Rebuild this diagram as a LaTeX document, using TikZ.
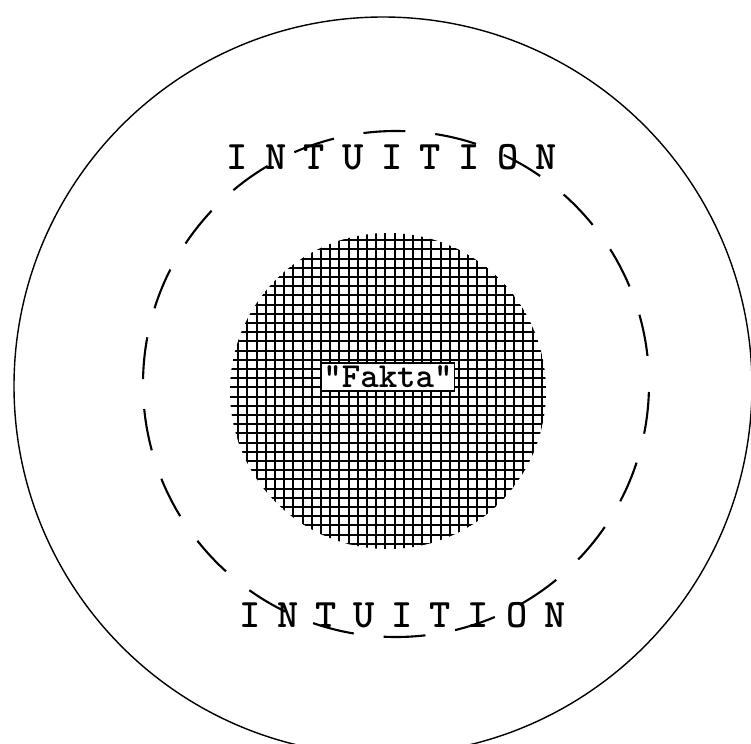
\documentclass[tikz,border=0pt]{standalone}
\usetikzlibrary{positioning}

\begin{document}
\begin{tikzpicture}[
  x=0.02cm, y=-0.02cm,
  outer/.style={line width=0.8pt},
  dashring/.style={line width=1.2pt, dash pattern=on 0.84cm off 0.6cm, dash phase=1.28cm},
  hatch/.style={line width=1.1pt},
  letter/.style={inner sep=0pt, font=\fontsize{23}{23}\selectfont\ttfamily\bfseries},
  labelbox/.style={rectangle, fill=white, draw=black, line width=0.6pt, minimum width=2.66cm, minimum height=0.56cm, inner sep=0pt, font=\fontsize{20}{20}\selectfont\ttfamily\bfseries}
]
\clip (0,0) rectangle (751,744);
\fill[white] (0,0) rectangle (751,744);

% Outer circle
\draw[outer] (383,386) circle [radius=369];

% Dashed ring
\draw[dashring] (396,384) circle [radius=253];

% Hatched core
\begin{scope}
  \clip (388,391) circle [radius=158];
  \foreach \k in {0,...,35} {
    \draw[hatch] ({229+9.2*\k},228) -- ++(0,330);
    \draw[hatch] (226,{231+9.2*\k}) -- ++(330,0);
  }
\end{scope}

% Label
\node[labelbox] (fakta) at (388,377) {"Fakta"};

% Top and bottom words
\foreach \ch [count=\i] in {I,N,T,U,I,T,I,O,N}
  \node[letter] (top\i) at ({237+38.7*(\i-1)},157) {\ch};
\foreach \ch [count=\i] in {I,N,T,U,I,T,I,O,N}
  \node[letter] (bot\i) at ({250+38.1*(\i-1)},615) {\ch};

\end{tikzpicture}
\end{document}
